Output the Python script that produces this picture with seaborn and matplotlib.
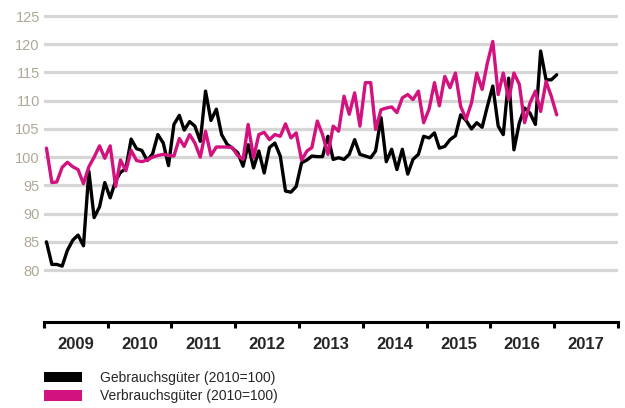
import pandas as pd
import numpy as np
import matplotlib
matplotlib.use("Agg")
import matplotlib.pyplot as plt
import matplotlib.dates as mdates
from matplotlib.patches import Patch
import seaborn as sns

# ── Data (monthly index values, Jan 2009 – Jan 2017) ─────────────────────────
gebrauch = [
    85, 81, 81, 80.7, 83.5, 85.3, 86.2, 84.3, 97.5, 89.3, 91.2, 95.5,            # 2009
    92.8, 95.8, 97.3, 98, 103.2, 101.5, 101.2, 99.4, 100.6, 104, 102.5, 98.5,    # 2010
    105.8, 107.4, 104.8, 106.3, 105.5, 102.8, 111.7, 106.5, 108.5, 104, 102.3, 101.6,  # 2011
    100.8, 98.4, 102.2, 98.1, 101.1, 97.2, 101.7, 102.5, 100.2, 94, 93.8, 94.8,  # 2012
    99, 99.5, 100.2, 100.1, 100.1, 103.7, 99.6, 99.9, 99.6, 100.5, 103.1, 100.5,  # 2013
    100.2, 99.9, 101.1, 107, 99.2, 101.4, 97.8, 101.4, 97, 99.6, 100.5, 103.7,   # 2014
    103.4, 104.3, 101.6, 101.9, 103.1, 103.8, 107.5, 106.5, 105, 106.1, 105.3, 109,  # 2015
    112.6, 105.5, 104, 114, 101.3, 106.1, 108.7, 107.8, 105.8, 118.8, 113.7, 113.7,  # 2016
    114.6,                                                                       # 2017
]
verbrauch = [
    101.6, 95.5, 95.6, 98.2, 99.1, 98.3, 97.8, 95.3, 98.3, 100, 102, 99.8,       # 2009
    102, 94.8, 99.5, 97.6, 101.2, 99.4, 99.2, 99.5, 100, 100.3, 100.5, 100.3,    # 2010
    100.2, 103.3, 101.9, 104, 102.5, 100, 104.6, 100.3, 101.8, 101.8, 101.8, 101.7,  # 2011
    100.3, 99.6, 105.8, 99.9, 104, 104.4, 103.1, 104, 103.7, 105.9, 103.4, 104.3,  # 2012
    99.5, 101.1, 101.7, 106.4, 104, 100.5, 105.5, 104.6, 110.8, 107.6, 111.4, 105.5,  # 2013
    113.2, 113.2, 104.9, 108.4, 108.7, 108.9, 107.9, 110.5, 111.1, 110.2, 111.7, 106.1,  # 2014
    108.5, 113.2, 109.1, 114.3, 112.3, 114.9, 109, 106.7, 109.6, 114.9, 112, 116.7,  # 2015
    120.5, 111.1, 114.9, 110.2, 114.9, 112.9, 106.1, 109.6, 111.7, 108.1, 113.4, 110.8,  # 2016
    107.5,                                                                       # 2017
]
labels = ["Gebrauchsgüter (2010=100)", "Verbrauchsgüter (2010=100)"]
colors = ["#000000", "#d2127f"]
y_ticks = [80, 85, 90, 95, 100, 105, 110, 115, 120, 125]
years = list(range(2009, 2019))

months = pd.date_range("2009-01-01", periods=len(gebrauch), freq="MS") + pd.Timedelta(days=14)
df = pd.DataFrame({
    "Monat": list(months) * 2,
    "Index": gebrauch + verbrauch,
    "Reihe": [labels[0]] * len(gebrauch) + [labels[1]] * len(verbrauch),
})

# ── Plot ─────────────────────────────────────────────────────────────────────
sns.set_theme(style="white")
plt.rcParams["font.family"] = ["Liberation Sans", "DejaVu Sans"]

fig = plt.figure(figsize=(6.25, 4.08), dpi=100)
ax = fig.add_axes([44 / 625, 1 - 322 / 408, 574 / 625, (322 - 10.4) / 408])

for y in y_ticks:
    ax.axhline(y, color="#d6d6d6", linewidth=2.3, zorder=0)

sns.lineplot(data=df, x="Monat", y="Index", hue="Reihe", palette=colors,
             linewidth=2.4, legend=False, ax=ax, zorder=3)

ax.set_ylim(70.8, 126)
ax.set_xlim(pd.Timestamp("2009-01-01"), pd.Timestamp("2018-01-01"))
ax.set_xlabel("")
ax.set_ylabel("")

ax.set_yticks(y_ticks)
ax.set_yticklabels([str(v) for v in y_ticks], color="#aea896", fontsize=10.5)
ax.tick_params(axis="y", length=0, pad=3)

# year ticks (marks) and centred year labels
ax.set_xticks([pd.Timestamp(f"{y}-01-01") for y in years])
ax.set_xticklabels([])
ax.set_xticks([pd.Timestamp(f"{y}-07-02") for y in years[:-1]], minor=True)
ax.set_xticklabels([str(y) for y in years[:-1]], minor=True,
                   fontsize=12, fontweight="bold")
ax.tick_params(axis="x", which="major", direction="out", length=4, width=2.2,
               color="black", bottom=True)
ax.tick_params(axis="x", which="minor", length=0, pad=10.5, bottom=True)

for side in ["top", "right", "left"]:
    ax.spines[side].set_visible(False)
ax.spines["bottom"].set_color("black")
ax.spines["bottom"].set_linewidth(2.2)

handles = [Patch(facecolor=c, edgecolor="none") for c in colors]
fig.legend(handles=handles, labels=labels, loc="upper left",
           bbox_to_anchor=(44 / 625, 1 - 371 / 408), frameon=False,
           borderaxespad=0, borderpad=0,
           handlelength=2.75, handleheight=0.8, handletextpad=1.3,
           labelspacing=0.3,
           prop={"family": ["Liberation Sans Narrow", "Liberation Sans"], "size": 10})

fig.savefig("out.png", dpi=100)
